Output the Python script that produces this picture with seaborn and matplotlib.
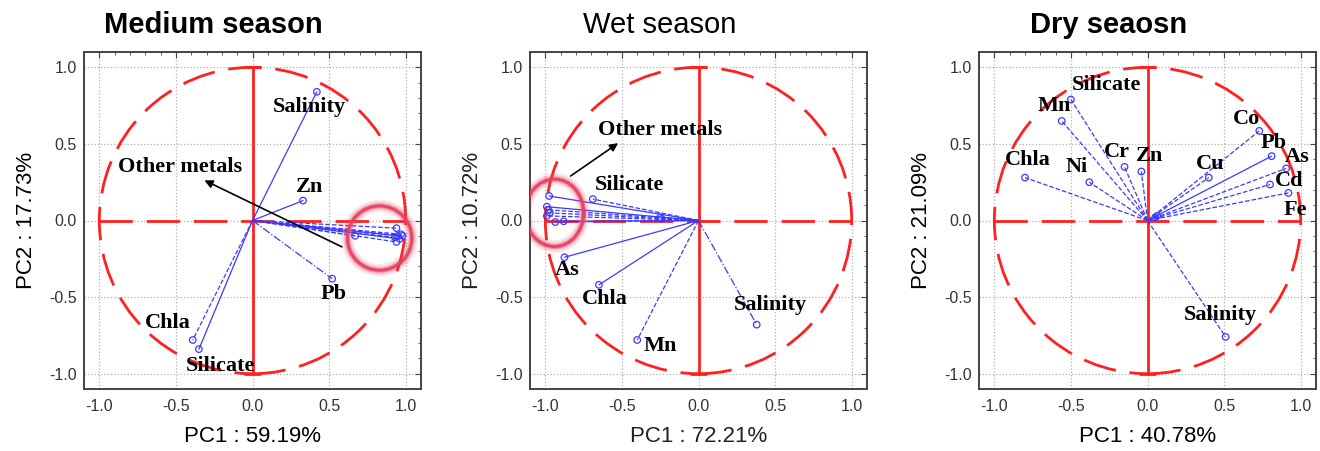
import numpy as np
import pandas as pd
import matplotlib
matplotlib.use("Agg")
import matplotlib.pyplot as plt
from matplotlib.patches import Circle, Ellipse
from matplotlib.ticker import MultipleLocator
import seaborn as sns

# %% data: loadings (PC1, PC2)
med_vars = ["Salinity", "Zn", "Pb", "Chla", "Silicate",
            "m1", "m2", "m3", "m4", "m5", "m6", "m7", "m8"]
med_pc1 = [0.42, 0.33, 0.52, -0.39, -0.35,
           0.67, 0.94, 0.95, 0.97, 0.94, 0.96, 0.93, 0.98]
med_pc2 = [0.84, 0.13, -0.38, -0.78, -0.84,
           -0.10, -0.05, -0.10, -0.09, -0.14, -0.12, -0.11, -0.10]
med_ls = ["-", "-", "-.", "--", "-",
          "--", "--", "-", "--", "--", "-", "--", "--"]

wet_vars = ["Salinity", "Mn", "Chla", "As", "Silicate",
            "w1", "w2", "w3", "w4", "w5", "w6", "w7", "w8", "w9"]
wet_pc1 = [0.38, -0.40, -0.65, -0.875, -0.69,
           -0.975, -0.99, -0.98, -0.97, -0.99, -0.935, -0.88, -0.25, -0.24]
wet_pc2 = [-0.68, -0.78, -0.42, -0.24, 0.14,
           0.16, 0.09, 0.07, 0.05, 0.03, -0.01, -0.005, 0.02, 0.01]
wet_ls = ["-.", "--", "-", "-", "--",
          "-", "-", "--", "--", "--", "--", "-", "--", "--"]

dry_vars = ["Silicate", "Mn", "Chla", "Ni", "Cr", "Zn", "Cu", "Co",
            "Pb", "As", "Cd", "Fe", "Salinity", "d1", "d2"]
dry_pc1 = [-0.50, -0.56, -0.80, -0.38, -0.15, -0.04, 0.40, 0.73,
           0.81, 0.905, 0.80, 0.92, 0.51, 0.063, 0.05]
dry_pc2 = [0.79, 0.65, 0.28, 0.25, 0.35, 0.32, 0.28, 0.585,
           0.42, 0.34, 0.235, 0.18, -0.76, 0.03, 0.02]
dry_ls = ["--", "--", "--", "--", "--", "--", "--", "--",
          "-", "--", "--", "--", "--", "--", "--"]

# label text positions (data coords), only for named variables
med_lab = {"Salinity": (0.37, 0.74), "Zn": (0.37, 0.22), "Pb": (0.53, -0.48),
           "Chla": (-0.55, -0.67), "Silicate": (-0.21, -0.95)}
wet_lab = {"Salinity": (0.47, -0.55), "Mn": (-0.25, -0.82), "Chla": (-0.61, -0.51),
           "As": (-0.86, -0.32), "Silicate": (-0.45, 0.235)}
dry_lab = {"Silicate": (-0.27, 0.885), "Mn": (-0.61, 0.745), "Chla": (-0.78, 0.395),
           "Ni": (-0.46, 0.35), "Cr": (-0.20, 0.45), "Zn": (0.01, 0.42),
           "Cu": (0.41, 0.37), "Co": (0.645, 0.665), "Pb": (0.825, 0.505),
           "As": (0.975, 0.415), "Cd": (0.925, 0.26), "Fe": (0.965, 0.07),
           "Salinity": (0.475, -0.615)}

titles = ["Medium season", "Wet season", "Dry seaosn"]
title_bold = [True, False, True]
xlabels = ["PC1 : 59.19%", "PC1 : 72.21%", "PC1 : 40.78%"]
ylabels = ["PC2 : 17.73%", "PC2 : 10.72%", "PC2 : 21.09%"]

# %%
sns.set_style("white")
plt.rcParams["font.family"] = ["Liberation Sans", "DejaVu Sans"]
plt.rcParams["axes.unicode_minus"] = False
plt.rcParams["text.color"] = "black"
plt.rcParams["axes.labelcolor"] = "black"

fig = plt.figure(figsize=(13.2, 4.51), dpi=100)
lefts = [84 / 1320, 530 / 1320, 979 / 1320]
title_x = [213 / 1320, 660 / 1320, 1109 / 1320]
blue = "#3a3aff"
red = "#ff2020"

panels = [
    (med_vars, med_pc1, med_pc2, med_ls, med_lab),
    (wet_vars, wet_pc1, wet_pc2, wet_ls, wet_lab),
    (dry_vars, dry_pc1, dry_pc2, dry_ls, dry_lab),
]

for i, (names, pc1, pc2, ls, labs) in enumerate(panels):
    ax = fig.add_axes([lefts[i], 62 / 451, 337 / 1320, 337 / 451])
    df = pd.DataFrame({"var": names, "PC1": pc1, "PC2": pc2, "ls": ls})

    # unit circle and axes cross
    ax.add_patch(Circle((0, 0), 1, fill=False, ec=red, lw=2.0,
                        ls=(0, (12, 5)), zorder=2))
    ax.plot([-1, 1], [0, 0], color=red, lw=2.0, ls=(0, (12, 5)), zorder=2)
    ax.plot([0, 0], [-1, 1], color=red, lw=2.0, zorder=2)
    ax.plot([-0.05, 0.05], [1, 1], color=red, lw=2.0, zorder=2)
    ax.plot([-0.05, 0.05], [-1, -1], color=red, lw=2.0, zorder=2)

    # loading vectors
    for _, r in df.iterrows():
        ax.plot([0, r.PC1], [0, r.PC2], color=blue, lw=0.9, ls=r.ls, zorder=3)
    sns.scatterplot(data=df, x="PC1", y="PC2", ax=ax, marker="o", s=22,
                    facecolor="none", edgecolor=blue, linewidth=0.9, zorder=4,
                    legend=False)

    for name, (tx, ty) in labs.items():
        ax.text(tx, ty, name, ha="center", va="center", fontsize=16,
                fontweight="bold", family="Liberation Serif", color="black", zorder=5)

    ax.set_xlim(-1.1, 1.1)
    ax.set_ylim(-1.1, 1.1)
    ax.xaxis.set_major_locator(MultipleLocator(0.5))
    ax.yaxis.set_major_locator(MultipleLocator(0.5))
    ax.xaxis.set_minor_locator(MultipleLocator(0.1))
    ax.yaxis.set_minor_locator(MultipleLocator(0.1))
    ax.xaxis.set_major_formatter(matplotlib.ticker.FormatStrFormatter("%.1f"))
    ax.yaxis.set_major_formatter(matplotlib.ticker.FormatStrFormatter("%.1f"))
    ax.tick_params(which="both", direction="in", top=True, right=True,
                   color="#444444", labelsize=11.5, labelcolor="#333333")
    ax.tick_params(axis="x", which="major", length=4, pad=7)
    ax.tick_params(axis="y", which="major", length=4, pad=5)
    ax.tick_params(which="minor", length=2)
    ax.grid(True, which="major", color="#b0b0b0", ls=":", lw=0.9)
    for sp in ax.spines.values():
        sp.set_color("#444444")
        sp.set_linewidth(1.4)

    lab_color = "#222222" if i == 1 else "black"
    ax.set_xlabel(xlabels[i], fontsize=16, color=lab_color)
    ax.set_ylabel(ylabels[i], fontsize=16, color=lab_color)
    ax.xaxis.set_label_coords(0.5, -0.11)
    ax.yaxis.set_label_coords(-0.14, 0.5)

    fig.text(title_x[i], 0.945, titles[i], ha="center", va="center",
             fontsize=21, color="black",
             fontweight="bold" if title_bold[i] else "normal")

    # annotation arrows + highlight rings
    if i == 0:
        ax.annotate("", xy=(-0.33, 0.27), xytext=(0.60, -0.18),
                    arrowprops=dict(arrowstyle="-|>", color="black", lw=1.2,
                                    mutation_scale=12), zorder=5)
        ax.text(-0.47, 0.35, "Other metals", ha="center", va="center",
                fontsize=16, fontweight="bold", family="Liberation Serif",
                color="black", zorder=5)
        ring = dict(center=(0.83, -0.115), w=0.42, h=0.42)
    elif i == 1:
        ax.annotate("", xy=(-0.51, 0.515), xytext=(-0.85, 0.28),
                    arrowprops=dict(arrowstyle="-|>", color="black", lw=1.2,
                                    mutation_scale=12), zorder=5)
        ax.text(-0.25, 0.59, "Other metals", ha="center", va="center",
                fontsize=16, fontweight="bold", family="Liberation Serif",
                color="black", zorder=5)
        ring = dict(center=(-0.94, 0.05), w=0.38, h=0.44)
    else:
        ring = None
    if ring:
        for lw, a in [(9, 0.12), (6, 0.2), (3.5, 0.45), (2, 0.9)]:
            ax.add_patch(Ellipse(ring["center"], ring["w"], ring["h"], fill=False,
                                 ec="#e6405f", lw=lw, alpha=a, zorder=6))

fig.savefig("out.png", dpi=100)
